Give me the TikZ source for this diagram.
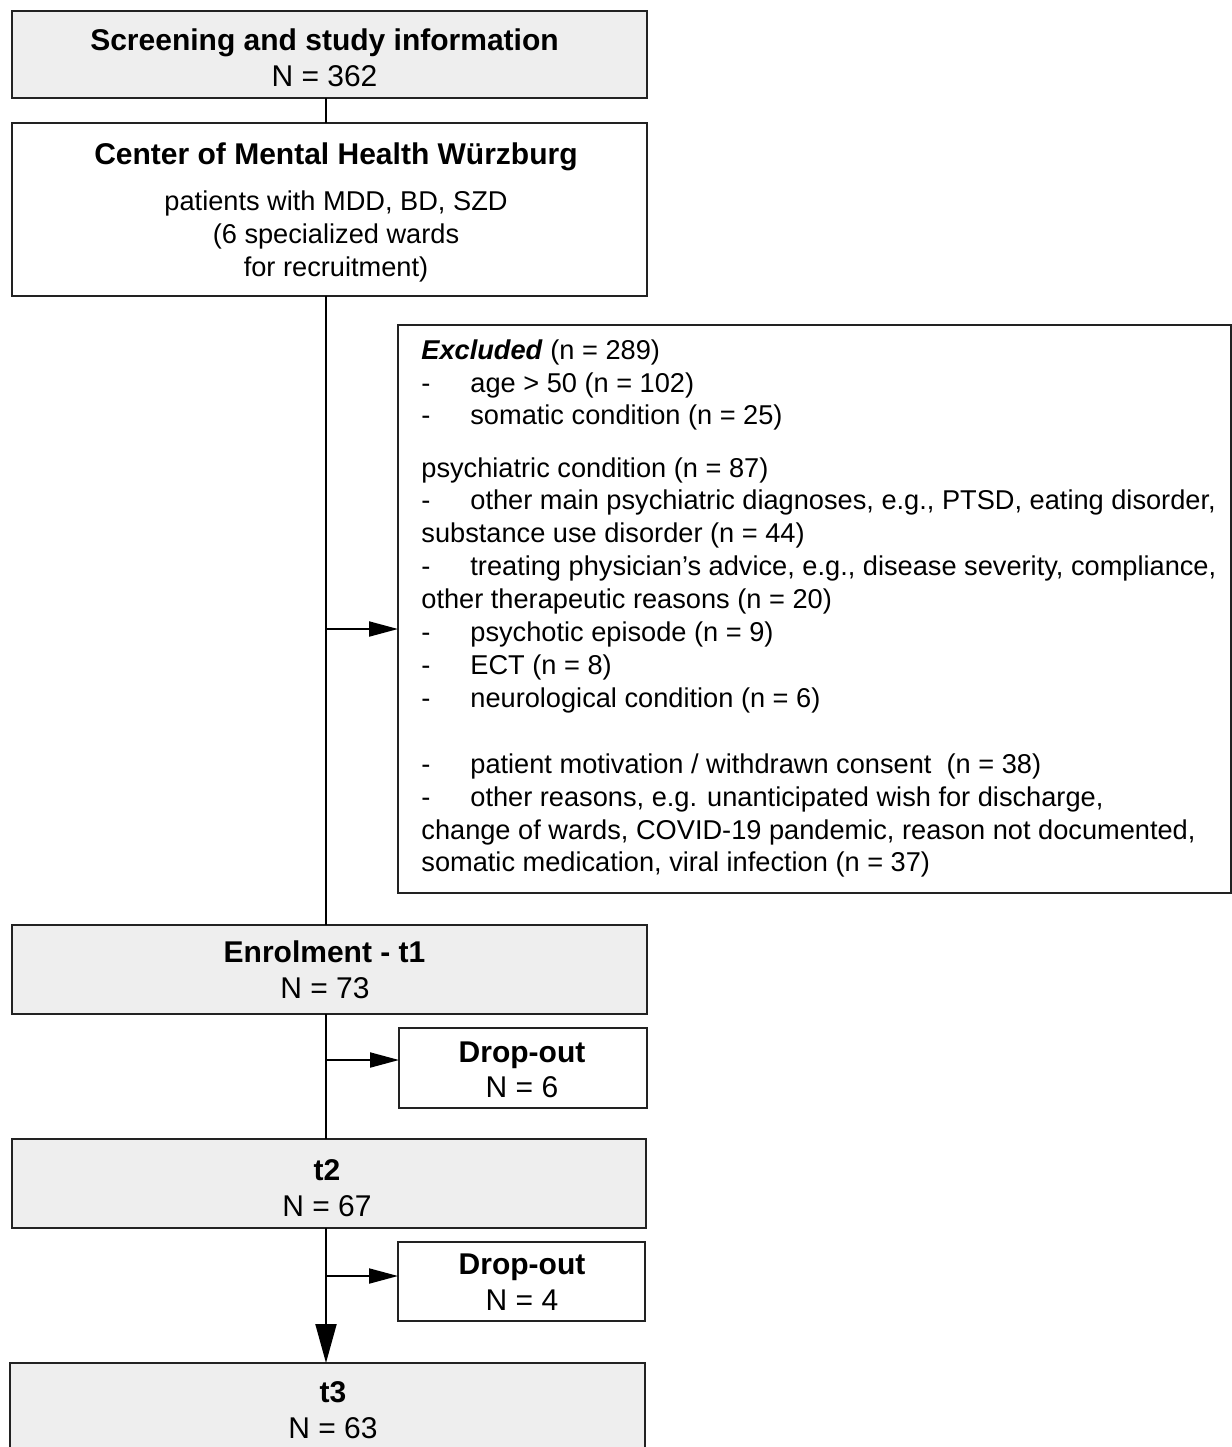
\documentclass[tikz,border=0pt]{standalone}
\usepackage{fontspec}
\setmainfont{Liberation Sans}
\usetikzlibrary{arrows.meta}
\definecolor{boxgrey}{HTML}{EEEEEE}
\definecolor{edge}{HTML}{222222}
\newcommand{\hd}{\fontsize{15}{18}\selectfont}
\newcommand{\bd}{\fontsize{13.6}{16.4}\selectfont}
\newcommand{\dsh}{\makebox[24.5pt][l]{-}}
\tikzset{
  box/.style={draw=edge, line width=1pt, rectangle, inner sep=0pt, outer sep=0pt},
  greybox/.style={box, fill=boxgrey},
  whitebox/.style={box, fill=white},
  ttl/.style={inner sep=0pt, anchor=base, font=\hd\bfseries},
  num/.style={inner sep=0pt, anchor=base, font=\hd},
  sub/.style={inner sep=0pt, anchor=base, font=\bd},
  ex/.style={inner sep=0pt, anchor=base west, font=\bd},
  conn/.style={draw=black, line width=1pt},
  arr/.style={conn, -{Triangle[length=14.5pt,width=7.5pt]}},
  bigarr/.style={conn, -{Triangle[length=19.5pt,width=10.5pt]}},
}
\begin{document}
\begin{tikzpicture}[x=0.5pt,y=-0.5pt]
\useasboundingbox (0,0) rectangle (1232,1447);
\fill[white] (0,0) rectangle (1232,1447);
% boxes
\node[greybox, minimum width=317.5pt, minimum height=43.5pt] (screen) at (329.5,54.5) {};
\node[whitebox, minimum width=317.5pt, minimum height=86.5pt] (center) at (329.5,209.5) {};
\node[whitebox, minimum width=416.5pt, minimum height=284pt] (excl) at (814.5,609) {};
\node[greybox, minimum width=317.5pt, minimum height=44.5pt] (enrol) at (329.5,969.5) {};
\node[whitebox, minimum width=124pt, minimum height=40pt] (drop1) at (523,1068) {};
\node[greybox, minimum width=317pt, minimum height=44.5pt] (t2) at (329,1183.5) {};
\node[whitebox, minimum width=123.5pt, minimum height=39.5pt] (drop2) at (521.5,1281.5) {};
\node[greybox, minimum width=317.5pt, minimum height=44.5pt] (t3) at (327.5,1407.5) {};
% spine and branch points
\coordinate (sx) at (326,0);
\coordinate (b1) at (326,629);
\coordinate (b2) at (326,1060);
\coordinate (b3) at (326,1276);
% connectors
\draw[conn] (screen.south -| sx) -- (center.north -| sx);
\draw[conn] (center.south -| sx) -- (enrol.north -| sx);
\draw[arr] (b1) -- (b1 -| excl.west);
\draw[conn] (enrol.south -| sx) -- (t2.north -| sx);
\draw[arr] (b2) -- (b2 -| drop1.west);
\draw[bigarr] (t2.south -| sx) -- (t3.north -| sx);
\draw[arr] (b3) -- (b3 -| drop2.west);
% texts
\node[ttl] (screenT) at (324.5,50) {Screening and study information};
\node[num] (screenN) at (324.5,86) {N = 362};
\node[ttl] (centerT) at (336,164) {Center of Mental Health Würzburg};
\node[sub] (centerA) at (336,210) {patients with MDD, BD, SZD};
\node[sub] (centerB) at (336,243) {(6 specialized wards};
\node[sub] (centerC) at (336,276) {for recruitment)};
\node[ttl] (enrolT) at (324.5,962) {Enrolment - t1};
\node[num] (enrolN) at (325,998) {N = 73};
\node[ttl] (drop1T) at (522,1062) {Drop-out};
\node[num] (drop1N) at (522,1097) {N = 6};
\node[ttl] (t2T) at (327,1180) {t2};
\node[num] (t2N) at (327,1216) {N = 67};
\node[ttl] (drop2T) at (522,1274) {Drop-out};
\node[num] (drop2N) at (522,1310) {N = 4};
\node[ttl] (t3T) at (333,1402) {t3};
\node[num] (t3N) at (333,1438) {N = 63};
% excluded list
\node[ex] (e1) at (421,359) {\textbf{\textit{Excluded}} (n = 289)};
\node[ex] (e2) at (421,392) {\dsh age > 50 (n = 102)};
\node[ex] (e3) at (421,424) {\dsh somatic condition (n = 25)};
\node[ex] (e4) at (421,477) {psychiatric condition (n = 87)};
\node[ex] (e5) at (421,509) {\dsh other main psychiatric diagnoses, e.g., PTSD, eating disorder,};
\node[ex] (e6) at (421,542) {substance use disorder (n = 44)};
\node[ex] (e7) at (421,575) {\dsh treating physician’s advice, e.g., disease severity, compliance,};
\node[ex] (e8) at (421,608) {other therapeutic reasons (n = 20)};
\node[ex] (e9) at (421,641) {\dsh psychotic episode (n = 9)};
\node[ex] (e10) at (421,674) {\dsh ECT (n = 8)};
\node[ex] (e11) at (421,707) {\dsh neurological condition (n = 6)};
\node[ex] (e12) at (421,773) {\dsh patient motivation / withdrawn consent\ \ (n = 38)};
\node[ex] (e13) at (421,806) {\dsh other reasons, e.g. unanticipated wish for discharge,};
\node[ex] (e14) at (421,839) {change of wards, COVID-19 pandemic, reason not documented,};
\node[ex] (e15) at (421,871) {somatic medication, viral infection (n = 37)};
\end{tikzpicture}
\end{document}
